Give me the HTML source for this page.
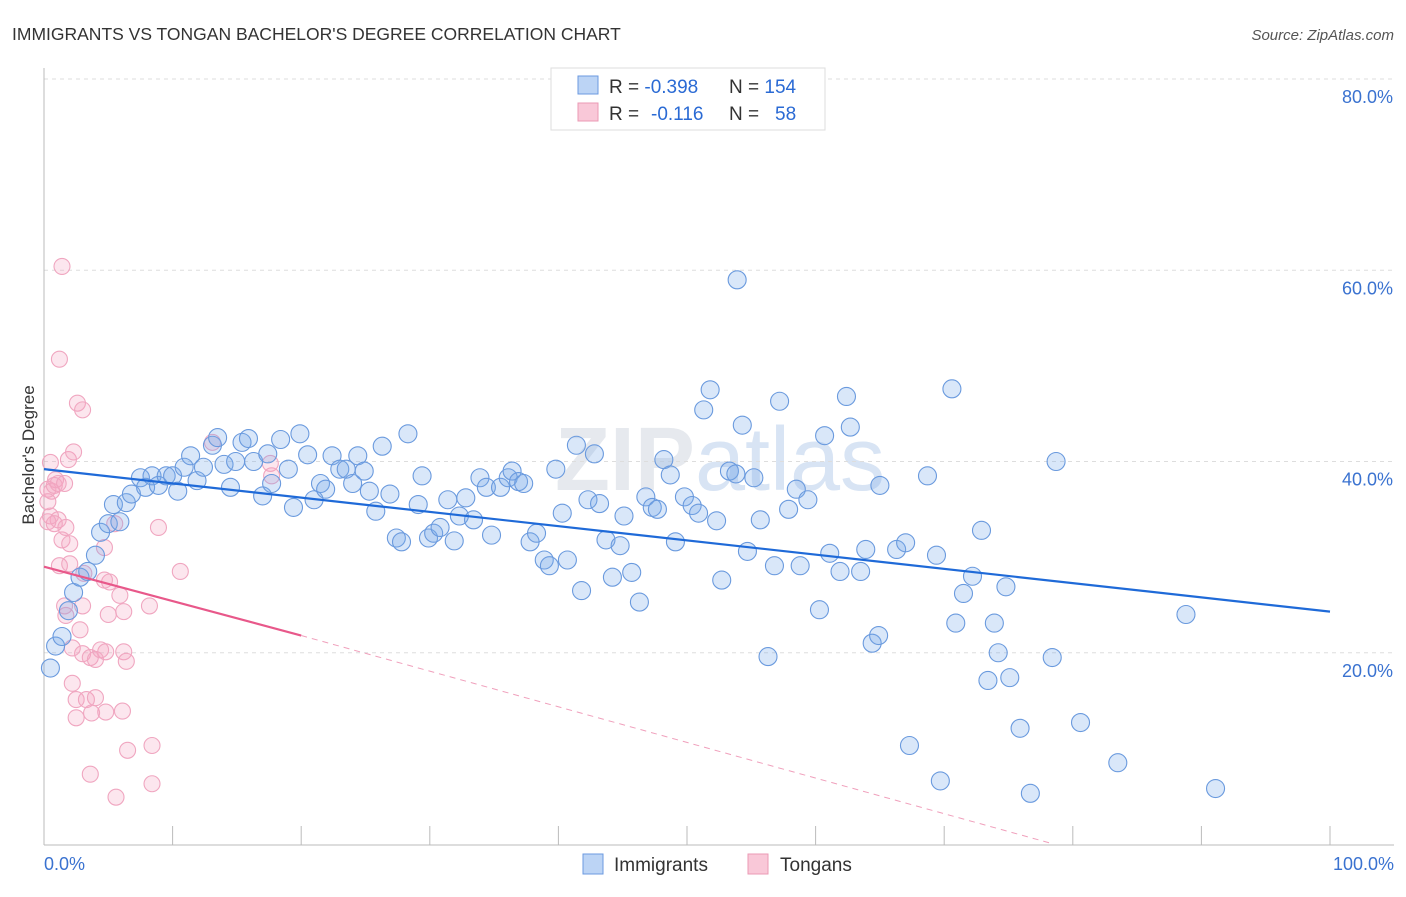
<!DOCTYPE html>
<html><head><meta charset="utf-8"><style>
body{margin:0;background:#fff;font-family:"Liberation Sans",sans-serif;}
svg text{font-family:"Liberation Sans",sans-serif;}
</style></head><body>
<svg id="c" width="1406" height="892" xmlns="http://www.w3.org/2000/svg">
<text x="12" y="40" font-size="17.5" fill="#333">IMMIGRANTS VS TONGAN BACHELOR'S DEGREE CORRELATION CHART</text>
<text x="1394" y="40" font-size="15" fill="#555" font-style="italic" text-anchor="end">Source: ZipAtlas.com</text>
<text x="720" y="490" font-size="90" fill="#e6e9ee" text-anchor="middle" font-weight="bold">ZIP<tspan font-weight="normal" fill="#d8e4f4">atlas</tspan></text>
<g id="grid"></g>
<g id="pts"></g>
<g id="trend"></g>
<text transform="translate(34,455) rotate(-90)" font-size="17" fill="#333" text-anchor="middle">Bachelor's Degree</text>
<g>
<rect x="551" y="68" width="274" height="62" fill="#fff" stroke="#ddd"/>
<rect x="578" y="76" width="20" height="18" fill="#bcd4f5" stroke="#6b9ae0"/>
<rect x="578" y="103" width="20" height="18" fill="#f9c8d8" stroke="#eb9ab4"/>
<text x="609" y="93" font-size="19" fill="#333">R = <tspan fill="#2a6ad4">-0.398</tspan><tspan x="729">N = </tspan><tspan fill="#2a6ad4">154</tspan></text>
<text x="609" y="120" font-size="19" fill="#333">R = <tspan x="651" fill="#2a6ad4">-0.116</tspan><tspan x="729">N = </tspan><tspan x="775" fill="#2a6ad4">58</tspan></text>
</g>
<g>
<rect x="583" y="854" width="20" height="20" fill="#bcd4f5" stroke="#6b9ae0"/>
<text x="614" y="871" font-size="19" fill="#333">Immigrants</text>
<rect x="748" y="854" width="20" height="20" fill="#f9c8d8" stroke="#eb9ab4"/>
<text x="780" y="871" font-size="19" fill="#333">Tongans</text>
</g>
</svg>
<script>
const yTicks=[20,40,60,80];
const yTickLabels=["20.0%","40.0%","60.0%","80.0%"];
const xTicks=[0,10,20,30,40,50,60,70,80,90,100];
const xEndLabels=["0.0%","100.0%"];
const blueX=[0.5,0.9,1.4,1.9,2.3,2.8,3.4,4.0,4.4,5.0,5.4,5.9,6.4,6.8,7.5,7.9,8.4,8.9,9.5,10.0,10.4,10.9,11.4,11.9,12.4,13.1,13.5,14.0,14.5,14.9,15.4,15.9,16.3,17.0,17.4,17.7,18.4,19.0,19.4,19.9,20.5,21.0,21.5,21.9,22.4,23.0,23.5,24.0,24.4,24.9,25.3,25.8,26.3,26.9,27.4,27.8,28.3,29.1,29.4,29.9,30.3,30.8,31.4,31.9,32.3,32.8,33.4,33.9,34.4,34.8,35.5,36.1,36.4,36.9,37.3,37.8,38.3,38.9,39.3,39.8,40.3,40.7,41.4,41.8,42.3,42.8,43.2,43.7,44.2,44.8,45.1,45.7,46.3,46.8,47.3,47.7,48.2,48.7,49.1,49.8,50.4,50.9,51.3,51.8,52.3,52.7,53.3,53.8,54.3,53.9,54.7,55.2,55.7,56.3,56.8,57.2,57.9,58.5,58.8,59.4,60.3,60.7,61.1,61.9,62.4,62.7,63.5,63.9,64.4,64.9,65.0,66.3,67.0,67.3,68.7,69.4,69.7,70.6,70.9,71.5,72.2,72.9,73.4,73.9,74.2,74.8,75.1,75.9,76.7,78.7,78.4,80.6,83.5,88.8,91.1];
const blueY=[18.4,20.7,21.7,24.4,26.3,27.9,28.5,30.2,32.6,33.5,35.5,33.7,35.7,36.6,38.3,37.3,38.5,37.5,38.5,38.5,36.9,39.4,40.6,38.0,39.4,41.7,42.5,39.7,37.3,40.0,42.0,42.4,40.0,36.4,40.8,37.7,42.3,39.2,35.2,42.9,40.7,36.0,37.7,37.1,40.6,39.2,39.2,37.7,40.6,39.0,36.9,34.8,41.6,36.6,32.0,31.6,42.9,35.5,38.5,32.0,32.5,33.1,36.0,31.7,34.3,36.2,33.9,38.3,37.3,32.3,37.3,38.3,39.0,37.9,37.7,31.6,32.5,29.7,29.1,39.2,34.6,29.7,41.7,26.5,36.0,40.8,35.6,31.8,27.9,31.2,34.3,28.4,25.3,36.3,35.2,35.0,40.2,38.6,31.6,36.3,35.4,34.6,45.4,47.5,33.8,27.6,39.0,38.7,43.8,59.0,30.6,38.3,33.9,19.6,29.1,46.3,35.0,37.1,29.1,36.0,24.5,42.7,30.4,28.5,46.8,43.6,28.5,30.8,21.0,21.8,37.5,30.8,31.5,10.3,38.5,30.2,6.6,47.6,23.1,26.2,28.0,32.8,17.1,23.1,20.0,26.9,17.4,12.1,5.3,40.0,19.5,12.7,8.5,24.0,5.8];
const pinkX=[1.4,1.2,2.6,3.0,0.5,1.9,2.3,0.9,0.3,0.6,0.8,1.1,1.6,0.3,0.5,1.1,0.3,0.8,1.7,1.4,2.0,4.7,5.5,8.9,1.2,2.0,3.1,5.1,6.2,4.7,5.9,8.2,1.6,1.7,3.0,5.0,10.6,2.8,2.2,3.0,3.6,4.4,4.8,4.0,6.2,6.4,2.2,2.5,3.3,4.0,4.8,2.5,3.7,6.1,6.5,3.6,8.4,5.6,8.4,13.1,17.6,17.7];
const pinkY=[60.4,50.7,46.1,45.4,39.9,40.2,41.0,38.1,37.1,36.9,37.5,37.7,37.7,35.8,34.3,33.9,33.7,33.5,33.1,31.8,31.4,31.0,33.5,33.1,29.1,29.3,28.3,27.4,24.3,27.6,26.0,24.9,24.9,23.9,24.9,24.0,28.5,22.4,20.5,19.9,19.5,20.3,20.1,19.3,20.1,19.1,16.8,15.1,15.1,15.3,13.8,13.2,13.7,13.9,9.8,7.3,10.3,4.9,6.3,42.0,39.8,38.5];
const blueTrendX=[0,100], blueTrendY=[39.2,24.3];
const pinkTrendX=[0,20], pinkTrendY=[29.0,21.8];
const pinkDashX=[20,78.5], pinkDashY=[21.8,0];

const X0=44,X1=1330,Y0=844,Y80=79;
const sx=v=>X0+(X1-X0)*v/100;
const sy=v=>Y0-(Y0-Y80)*v/80;
const NS="http://www.w3.org/2000/svg";
function mk(tag,attrs,parent){const e=document.createElementNS(NS,tag);for(const k in attrs)e.setAttribute(k,attrs[k]);parent.appendChild(e);return e;}
const grid=document.getElementById('grid');
yTicks.forEach((t,i)=>{
  const l=mk('line',{x1:X0,x2:1394,y1:sy(t),y2:sy(t),stroke:'#ddd','stroke-dasharray':'4,4'},grid);
  
  
  const tx=mk('text',{x:1393,y:sy(t)+24,'font-size':18,fill:'#3a72d0','text-anchor':'end'},grid);
  tx.textContent=yTickLabels[i];
  
  
});
const ax=mk('line',{x1:X0,x2:X0,y1:68,y2:Y0+1,stroke:'#bbb'},grid);


const bx=mk('line',{x1:X0,x2:1394,y1:Y0+1,y2:Y0+1,stroke:'#bbb'},grid);


xTicks.forEach(t=>{
  const l=mk('line',{x1:sx(t),x2:sx(t),y1:Y0-18,y2:Y0+1,stroke:'#bbb'},grid);
  
  
});
[[0,'start',44],[100,'end',1394]].forEach((d,i)=>{
  const tx=mk('text',{x:d[2],y:870,'font-size':18,fill:'#3a72d0','text-anchor':d[1]},grid);
  tx.textContent=xEndLabels[i];
  
  
});
const pts=document.getElementById('pts');
pinkX.forEach((x,i)=>{
  const c=mk('circle',{cx:sx(x),cy:sy(pinkY[i]),r:8,fill:'rgba(245,165,195,0.28)',stroke:'#f0a6c0','stroke-width':1.1},pts);
  
  
});
blueX.forEach((x,i)=>{
  const c=mk('circle',{cx:sx(x),cy:sy(blueY[i]),r:9,fill:'rgba(120,168,235,0.28)',stroke:'#6a9ade','stroke-width':1.1},pts);
  
  
});
const tr=document.getElementById('trend');
const bl=mk('line',{x1:sx(blueTrendX[0]),y1:sy(blueTrendY[0]),x2:sx(blueTrendX[1]),y2:sy(blueTrendY[1]),stroke:'#1f6ad8','stroke-width':2.2},tr);


const pl=mk('line',{x1:sx(pinkTrendX[0]),y1:sy(pinkTrendY[0]),x2:sx(pinkTrendX[1]),y2:sy(pinkTrendY[1]),stroke:'#e8588a','stroke-width':2.2},tr);


const pd=mk('line',{x1:sx(pinkDashX[0]),y1:sy(pinkDashY[0]),x2:sx(pinkDashX[1]),y2:sy(pinkDashY[1]),stroke:'#f0a0bc','stroke-width':1,'stroke-dasharray':'6,5'},tr);


</script>
</body></html>
